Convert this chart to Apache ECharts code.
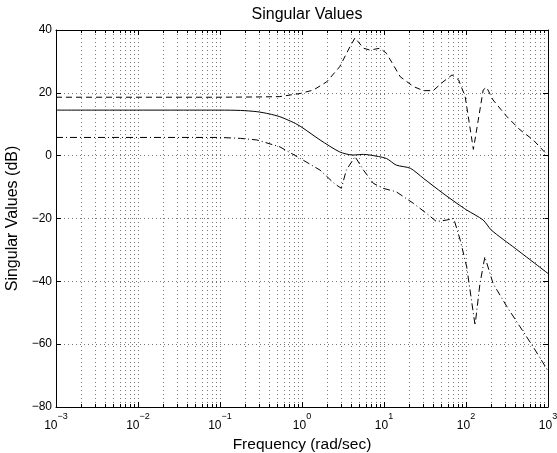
<!DOCTYPE html>
<html><head><meta charset="utf-8">
<script src="https://cdn.jsdelivr.net/npm/echarts@6/dist/echarts.min.js"></script>
<style>html,body{margin:0;padding:0;background:#fff}#c{width:557px;height:453px}</style>
</head><body><div id="c"></div>
<script>
const titleText = 'Singular Values';
const xName = 'Frequency (rad/sec)';
const yName = 'Singular Values (dB)';
const decades = [0.001, 0.01, 0.1, 1, 10, 100];
const minorMultipliers = [2, 3, 4, 5, 6, 7, 8, 9];

// solid curve
const freqSolid = [0.001, 0.1, 0.178, 0.282, 0.398, 0.537, 0.794, 1.0, 1.66, 2.88, 4.17, 5.62, 6.76, 10.7, 14.1, 20.9, 30.2, 52.5, 77.6, 102, 162, 204, 398, 1000];
const svSolid   = [14.5, 14.5, 14.4, 14.0, 13.3, 12.4, 10.5, 9.0, 5.0, 1.2, 0.2, 0.4, 0.2, -0.9, -3.0, -4.0, -7.2, -12.0, -15.2, -17.3, -20.5, -23.7, -29.5, -37.5];

// dashed curve (upper)
const freqDash = [0.001, 0.1, 0.316, 0.537, 0.955, 1.38, 2.0, 2.88, 3.85, 4.43, 5.62, 6.76, 8.91, 10.7, 15.8, 22.9, 30.2, 39.8, 52.5, 67.6, 81.3, 97.7, 123, 141, 162, 178, 214, 316, 457, 661, 1000];
const svDash   = [18.6, 18.6, 18.7, 18.8, 19.8, 20.9, 23.5, 28.3, 34.7, 37.5, 34.2, 33.6, 34.2, 32.6, 25.1, 22.0, 20.7, 20.7, 23.5, 25.7, 24.1, 18.8, 2.0, 11.3, 20.9, 21.8, 17.7, 12.4, 8.2, 5.0, 0.0];

// dash-dot curve (lower)
const freqDot = [0.001, 0.1, 0.178, 0.282, 0.537, 0.955, 1.66, 2.51, 3.02, 3.47, 4.43, 5.62, 7.41, 9.77, 14.1, 22.9, 33.1, 43.7, 57.5, 70.8, 85.1, 102, 129, 148, 170, 214, 316, 457, 661, 1000];
const svDot   = [5.8, 5.8, 5.5, 5.0, 2.8, -0.9, -4.6, -9.0, -10.4, -4.6, -0.3, -4.6, -8.8, -10.4, -11.5, -15.2, -18.4, -21.0, -20.5, -20.0, -26.9, -35.4, -54.0, -40.7, -32.2, -40.7, -48.1, -54.5, -60.9, -68.5];

const minorFreqs = [];
decades.forEach(d => minorMultipliers.forEach(m => minorFreqs.push(+(d * m).toPrecision(3))));

const FONT = 'Liberation Sans';
const YMIN = -80, YMAX = 40;
const GRID_COLOR = '#777';

function zip(xs, ys) { return xs.map((x, i) => [x, ys[i]]); }
function fmtY(v) { return v < 0 ? '\u2212' + (-v) : String(v); }
function fmtX(v) {
  const e = Math.round(Math.log10(v));
  return '{b|10}{s|' + (e < 0 ? '\u2212' + (-e) : e) + '}';
}

const chart = echarts.init(document.getElementById('c'), null, { renderer: 'canvas' });
const baseLog = {
  type: 'log', logBase: 10, min: 0.001, max: 1000, gridIndex: 0
};
chart.setOption({
  animation: false,
  backgroundColor: '#fff',
  title: {
    text: titleText, left: 302, top: 2, textAlign: 'center',
    textStyle: { fontFamily: FONT, fontSize: 16, fontWeight: 'normal', color: '#000' }
  },
  grid: { left: 56, right: 9, top: 30, bottom: 46, show: false, containLabel: false, outerBoundsMode: 'none' },
  xAxis: [
    Object.assign({}, baseLog, {
      position: 'bottom',
      name: xName, nameLocation: 'middle', nameGap: 23,
      nameTextStyle: { fontFamily: FONT, fontSize: 15.5, color: '#000' },
      axisLine: { show: true, onZero: false, lineStyle: { color: '#000', width: 1 } },
      axisTick: { show: true, inside: true, length: 5, lineStyle: { color: '#000' } },
      axisLabel: {
        formatter: fmtX, margin: 5, color: '#000',
        rich: {
          b: { fontFamily: FONT, fontSize: 12, color: '#000', lineHeight: 20, verticalAlign: 'bottom' },
          s: { fontFamily: FONT, fontSize: 9, color: '#000', lineHeight: 10, verticalAlign: 'top' }
        }
      },
      splitLine: { show: true, lineStyle: { color: GRID_COLOR, width: 1, type: [1, 3] } }
    }),
    Object.assign({}, baseLog, {
      position: 'top',
      axisLine: { show: true, onZero: false, lineStyle: { color: '#000', width: 1 } },
      axisTick: { show: true, inside: true, length: 5, lineStyle: { color: '#000' } },
      axisLabel: { show: false },
      splitLine: { show: false }
    })
  ],
  yAxis: [
    {
      type: 'value', min: YMIN, max: YMAX, interval: 20, position: 'left',
      name: yName, nameLocation: 'middle', nameGap: 28, nameRotate: 90,
      nameTextStyle: { fontFamily: FONT, fontSize: 16, color: '#000' },
      axisLine: { show: true, onZero: false, lineStyle: { color: '#000', width: 1 } },
      axisTick: { show: true, inside: true, length: 5, lineStyle: { color: '#000' } },
      axisLabel: { formatter: fmtY, margin: 4, fontFamily: FONT, fontSize: 12, color: '#000' },
      splitLine: { show: true, lineStyle: { color: GRID_COLOR, width: 1, type: [1, 3] } }
    },
    {
      type: 'value', min: YMIN, max: YMAX, interval: 20, position: 'right',
      axisLine: { show: true, onZero: false, lineStyle: { color: '#000', width: 1 } },
      axisTick: { show: true, inside: true, length: 5, lineStyle: { color: '#000' } },
      axisLabel: { show: false },
      splitLine: { show: false }
    }
  ],
  series: [
    {
      type: 'custom', xAxisIndex: 0, yAxisIndex: 0, silent: true, z: 1,
      data: minorFreqs.map(f => [f, 0]),
      renderItem: function (params, api) {
        const f = api.value(0);
        const top = api.coord([f, YMAX]);
        const bot = api.coord([f, YMIN]);
        const x = Math.round(top[0]) + 0.5;
        return {
          type: 'group', children: [
            { type: 'line', shape: { x1: x, y1: bot[1], x2: x, y2: top[1] }, style: { stroke: GRID_COLOR, lineWidth: 1, lineDash: [1, 3] } },
            { type: 'line', shape: { x1: x, y1: bot[1], x2: x, y2: bot[1] - 3 }, style: { stroke: '#000', lineWidth: 1 } },
            { type: 'line', shape: { x1: x, y1: top[1], x2: x, y2: top[1] + 3 }, style: { stroke: '#000', lineWidth: 1 } }
          ]
        };
      }
    },
    {
      type: 'line', data: zip(freqSolid, svSolid), showSymbol: false, smooth: 0.25, z: 3,
      lineStyle: { color: '#000', width: 1, type: 'solid' }
    },
    {
      type: 'line', data: zip(freqDash, svDash), showSymbol: false, z: 3,
      lineStyle: { color: '#000', width: 1, type: [6, 4] }
    },
    {
      type: 'line', data: zip(freqDot, svDot), showSymbol: false, z: 3,
      lineStyle: { color: '#000', width: 1, type: [7, 3, 1, 3] }
    }
  ]
});
</script>
</body></html>
